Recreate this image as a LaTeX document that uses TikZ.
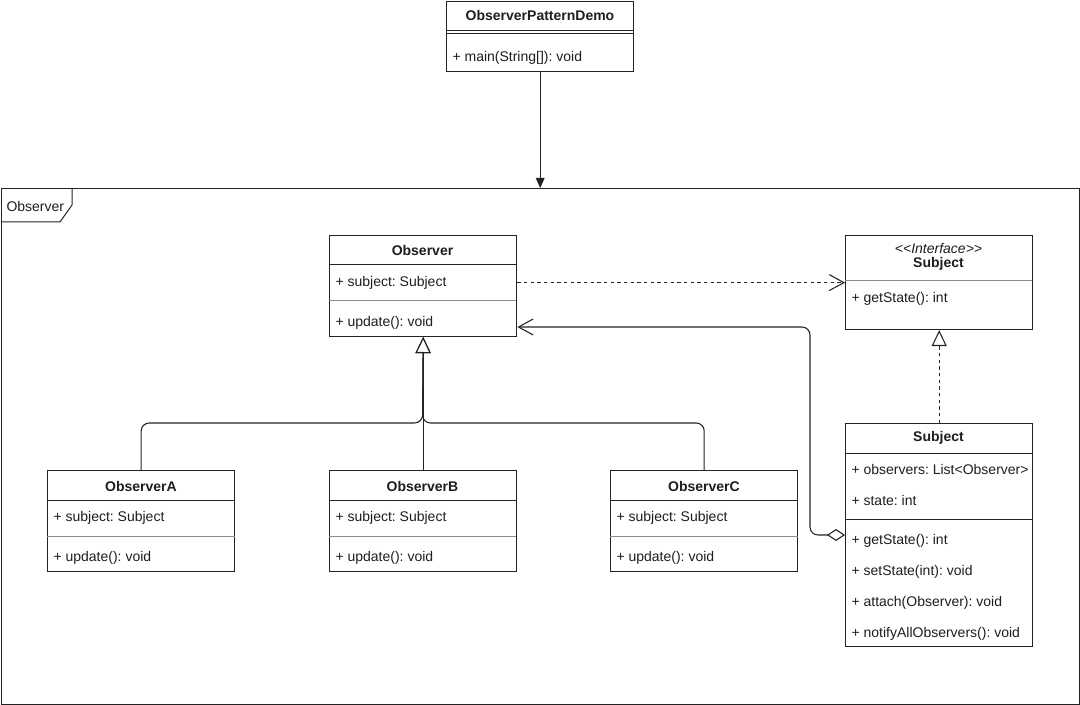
\documentclass[tikz,border=0pt]{standalone}
\usepackage{fontspec}
\setmainfont{Liberation Sans}
\usetikzlibrary{arrows.meta}
\definecolor{LineGray}{RGB}{35,35,35}
\definecolor{SepGray}{RGB}{140,140,140}
\definecolor{TextGray}{RGB}{30,30,30}
\frenchspacing

\begin{document}
\begin{tikzpicture}[x=0.75pt, y=-0.75pt, font=\fontsize{10.5}{12}\selectfont, line width=0.8pt,
  cls/.style={draw=LineGray, fill=white, anchor=north west, inner sep=0pt, minimum width=140.5pt},
  ctitle/.style={font=\fontsize{10.5}{12}\selectfont\bfseries, text=TextGray, inner sep=0pt},
  member/.style={anchor=west, text=TextGray, inner sep=0pt, yshift=-1.2pt},
  hsep/.style={draw=LineGray, line width=0.75pt}, sep/.style={draw=SepGray, line width=0.75pt},
  solidar/.style={draw=LineGray, -{Triangle[length=7.5pt, width=6.5pt]}},
  depend/.style={draw=LineGray, dash pattern=on 2.5pt off 2.5pt, -{Straight Barb[length=11pt, width=12pt]}},
  inherit/.style={draw=LineGray, -{Triangle[open, length=12pt, width=11.25pt, fill=white]}, rounded corners=6pt},
  realize/.style={inherit, dash pattern=on 2.5pt off 2.5pt},
  aggreg/.style={draw=LineGray, {Diamond[open, length=13.5pt, width=9pt, fill=white]}-{Straight Barb[length=11pt, width=12pt]}, rounded corners=6pt}]
\useasboundingbox (0,0) rectangle (1080,705);
\node[draw=LineGray, anchor=north west, inner sep=0pt, minimum width=808.5pt, minimum height=387pt] (pkg) at (1,188) {};
\node[member] (pkglabel) at (6,205) {Observer};
\draw[LineGray, line width=0.75pt] (72,188) -- (72,205) -- (60,222) -- (1,222);
\node[cls, minimum height=52.5pt] (demo) at (446,1) {};
\node[ctitle] (demoT) at (540,16) {ObserverPatternDemo};
\draw[hsep] (446,31) -- (634,31); \draw[hsep] (446,34) -- (634,34);
\node[member] (demoM1) at (452,56) {+ main(String[]): void};
\node[cls, minimum height=75.75pt] (obs) at (329,235) {};
\node[ctitle] (obsT) at (422.5,250) {Observer};
\draw[hsep] (329,265) -- (516,265); \draw[sep] (329,301) -- (516,301);
\node[member] (obsattr) at (335,281) {+ subject: Subject};
\node[member] (obsM1) at (335,321) {+ update(): void};
\node[cls, minimum height=70.5pt] (iface) at (845,235) {};
\node[member, anchor=center, font=\fontsize{10.5}{12}\selectfont\itshape] (ifaceS) at (938.5,247) {\textless{}\textless{}Interface\textgreater{}\textgreater{}};
\node[ctitle] (ifaceT) at (938.5,264) {Subject};
\draw[sep] (845,281) -- (1032,281);
\node[member] (ifaceM1) at (851,297) {+ getState(): int};
\node[cls, minimum height=167.25pt] (subj) at (845,423) {};
\node[ctitle] (subjT) at (938.5,438) {Subject};
\draw[hsep] (845,453) -- (1032,453); \draw[hsep] (845,519) -- (1032,519);
\node[member] (subjA1) at (851,468) {+ observers: List\textless{}Observer\textgreater{}};
\node[member] (subjA2) at (851,499) {+ state: int};
\node[member] (subjM1) at (851,539) {+ getState(): int};
\node[member] (subjM2) at (851,570) {+ setState(int): void};
\node[member] (subjM3) at (851,601) {+ attach(Observer): void};
\node[member] (subjM4) at (851,632) {+ notifyAllObservers(): void};
\node[cls, minimum height=75.75pt] (obsA) at (47,470) {};
\node[ctitle] (obsAT) at (141,486) {ObserverA};
\draw[hsep] (47,500) -- (235,500); \draw[sep] (47,536) -- (235,536);
\node[member] (obsAattr) at (53,516) {+ subject: Subject};
\node[member] (obsAM1) at (53,556) {+ update(): void};
\node[cls, minimum height=75.75pt] (obsB) at (329,470) {};
\node[ctitle] (obsBT) at (422.5,486) {ObserverB};
\draw[hsep] (329,500) -- (516,500); \draw[sep] (329,536) -- (516,536);
\node[member] (obsBattr) at (335,516) {+ subject: Subject};
\node[member] (obsBM1) at (335,556) {+ update(): void};
\node[cls, minimum height=75.75pt] (obsC) at (610,470) {};
\node[ctitle] (obsCT) at (704,486) {ObserverC};
\draw[hsep] (610,500) -- (798,500); \draw[sep] (610,536) -- (798,536);
\node[member] (obsCattr) at (616,516) {+ subject: Subject};
\node[member] (obsCM1) at (616,556) {+ update(): void};
\coordinate (genjoin) at (422.5,423);
\coordinate (aggin) at (845,535);
\coordinate (aggturn) at (810,327);
\draw[solidar] (demo.south) -- (demo.south |- pkg.north);
\draw[depend] (obs.east |- obsattr) -- (iface.west |- obsattr);
\draw[realize] (subj.north) -- (iface.south);
\draw[aggreg] (aggin) -| (aggturn) -- (obs.east |- aggturn);
\draw[inherit] (obsB.north) -- (obs.south);
\draw[inherit] (obsA.north) |- (genjoin) -- (obs.south); \draw[inherit] (obsC.north) |- (genjoin) -- (obs.south);
\end{tikzpicture}
\end{document}
